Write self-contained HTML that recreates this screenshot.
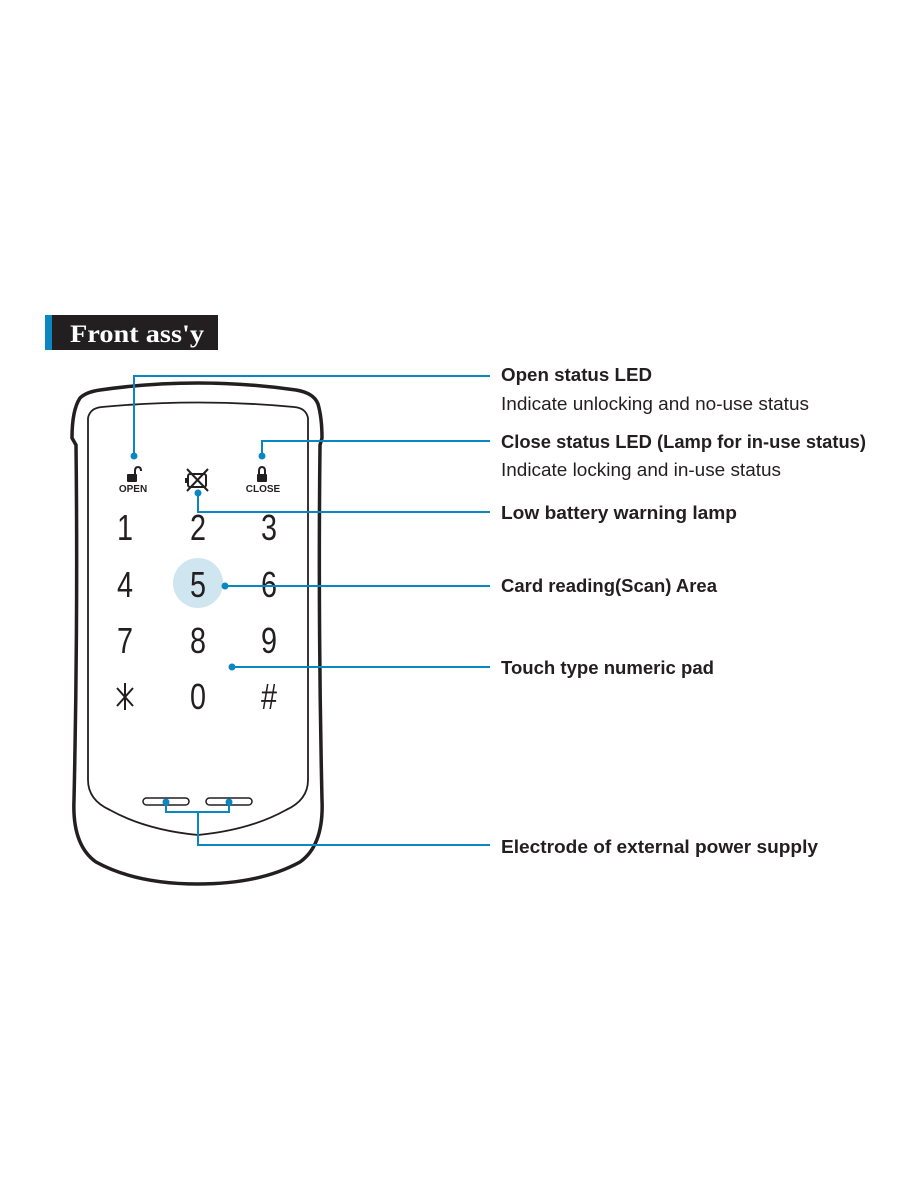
<!DOCTYPE html>
<html><head><style>body{margin:0;background:#fff}svg{display:block}</style></head>
<body>
<svg width="900" height="1200" viewBox="0 0 900 1200" xmlns="http://www.w3.org/2000/svg">
<rect x="45" y="315" width="173" height="35" fill="#231f20"/>
<rect x="45" y="315" width="7" height="35" fill="#0a86c0"/>
<text x="70" y="342" font-family="Liberation Serif" font-weight="bold" font-size="25" fill="#fff" textLength="134" lengthAdjust="spacingAndGlyphs">Front ass'y</text>

<!-- body outer -->
<path d="M80,398 Q86,392 100,390 Q198,376 296,390 Q314,393 318,404 Q322,418 322,438 L320,445 Q318,620 322,800 Q324,845 300,862 Q260,884 198,884 Q136,884 96,862 Q72,845 74,800 Q78,620 76,445 L72,438 Q72,410 80,398 Z" fill="none" stroke="#231f20" stroke-width="3.5"/>
<!-- inner -->
<path d="M88,418 Q90,408 102,407 Q198,398 294,407 Q306,408 308,418 L308,780 Q308,800 286,810 Q250,830 198,835 Q146,830 110,810 Q88,800 88,780 Z" fill="none" stroke="#231f20" stroke-width="1.8"/>

<circle cx="198" cy="583" r="25" fill="#cfe6f0"/>
<g font-family="Liberation Sans" font-size="36" fill="#231f20" text-anchor="middle">
<text x="125" y="540" transform="translate(125 0) scale(0.8 1) translate(-125 0)">1</text>
<text x="198" y="540" transform="translate(198 0) scale(0.8 1) translate(-198 0)">2</text>
<text x="269" y="540" transform="translate(269 0) scale(0.8 1) translate(-269 0)">3</text>
<text x="125" y="597" transform="translate(125 0) scale(0.8 1) translate(-125 0)">4</text>
<text x="198" y="597" transform="translate(198 0) scale(0.8 1) translate(-198 0)">5</text>
<text x="269" y="597" transform="translate(269 0) scale(0.8 1) translate(-269 0)">6</text>
<text x="125" y="653" transform="translate(125 0) scale(0.8 1) translate(-125 0)">7</text>
<text x="198" y="653" transform="translate(198 0) scale(0.8 1) translate(-198 0)">8</text>
<text x="269" y="653" transform="translate(269 0) scale(0.8 1) translate(-269 0)">9</text>
<text x="198" y="709" transform="translate(198 0) scale(0.8 1) translate(-198 0)">0</text>
<text x="269" y="709" transform="translate(269 0) scale(0.8 1) translate(-269 0)">#</text>
</g>
<g stroke="#231f20" stroke-width="2" fill="none"><path d="M125,683 V710 M117,688 L133,706 M133,688 L117,706"/></g>

<!-- icons -->
<g fill="#231f20">
<rect x="127" y="474" width="10" height="8" rx="1"/>
<path d="M135,475 V471 Q135,467 138,467 Q141,467 141,471" stroke="#231f20" stroke-width="2" fill="none"/>
<rect x="257" y="474" width="10" height="8" rx="1"/>
<path d="M259,475 V471 Q259,467 262,467 Q265,467 265,471 V475" stroke="#231f20" stroke-width="2" fill="none"/>
</g>
<g font-family="Liberation Sans" font-weight="bold" font-size="10" fill="#231f20" text-anchor="middle">
<text x="133" y="492">OPEN</text><text x="263" y="492">CLOSE</text>
</g>
<g stroke="#231f20" stroke-width="2" fill="none">
<rect x="188" y="474" width="18" height="13" rx="2"/><path d="M186,478 v5 M187,469 L208,491 M208,469 L187,491"/>
</g>

<!-- electrodes -->
<g stroke="#231f20" stroke-width="1.5" fill="none">
<rect x="143" y="798" width="46" height="7" rx="3.5"/>
<rect x="206" y="798" width="46" height="7" rx="3.5"/>
</g>

<!-- connectors -->
<g stroke="#0a86c0" stroke-width="2" fill="none">
<path d="M134,456 V376 H490"/>
<path d="M262,456 V441 H490"/>
<path d="M198,493 V512 H490"/>
<path d="M225,586 H490"/>
<path d="M232,667 H490"/>
<path d="M166,802 V812 H229 V802 M198,812 V845 H490"/>
</g>
<g fill="#0a86c0">
<circle cx="134" cy="456" r="3.5"/><circle cx="262" cy="456" r="3.5"/><circle cx="198" cy="493" r="3.5"/>
<circle cx="225" cy="586" r="3.5"/><circle cx="232" cy="667" r="3.5"/><circle cx="166" cy="802" r="3.5"/><circle cx="229" cy="802" r="3.5"/>
</g>

<g font-family="Liberation Sans" fill="#231f20" font-size="18">
<text x="501" y="381" font-weight="bold" textLength="151" lengthAdjust="spacingAndGlyphs">Open status LED</text>
<text x="501" y="410" textLength="308" lengthAdjust="spacingAndGlyphs">Indicate unlocking and no-use status</text>
<text x="501" y="448" font-weight="bold" textLength="365" lengthAdjust="spacingAndGlyphs">Close status LED (Lamp for in-use status)</text>
<text x="501" y="476" textLength="280" lengthAdjust="spacingAndGlyphs">Indicate locking and in-use status</text>
<text x="501" y="519" font-weight="bold" textLength="236" lengthAdjust="spacingAndGlyphs">Low battery warning lamp</text>
<text x="501" y="592" font-weight="bold" textLength="216" lengthAdjust="spacingAndGlyphs">Card reading(Scan) Area</text>
<text x="501" y="674" font-weight="bold" textLength="213" lengthAdjust="spacingAndGlyphs">Touch type numeric pad</text>
<text x="501" y="853" font-weight="bold" textLength="317" lengthAdjust="spacingAndGlyphs">Electrode of external power supply</text>
</g>
</svg>
</body></html>
